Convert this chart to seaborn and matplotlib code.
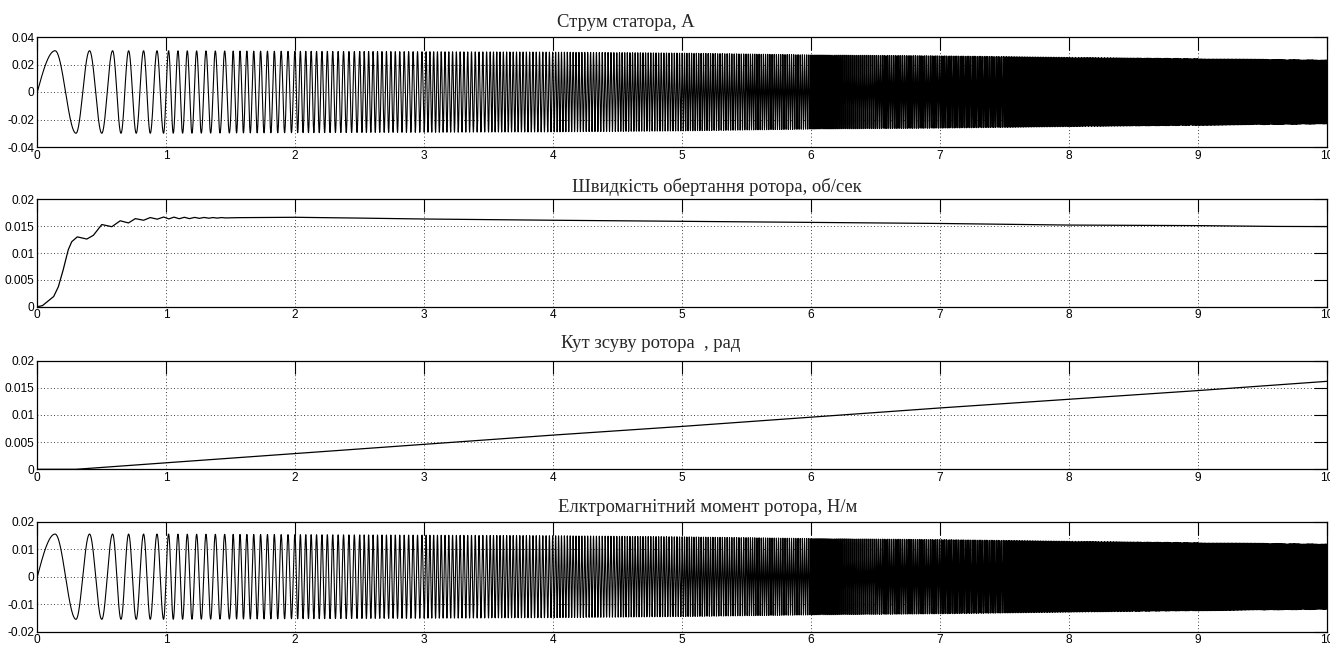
import numpy as np
import pandas as pd
import seaborn as sns
import matplotlib
matplotlib.use("Agg")
import matplotlib.pyplot as plt

sns.set_theme(style="white")
plt.rcParams['font.family'] = ['Liberation Sans', 'DejaVu Sans']

# titles of the four scopes
titles = ["Струм статора, А",
          "Швидкість обертання ротора, об/сек",
          "Кут зсуву ротора  , рад",
          "Елктромагнітний момент ротора, Н/м"]

# oscillation: number of cycles done at time t (peaks/troughs read off, later part estimated)
cyc_t = [0, 0.138, 0.30, 0.405, 0.50, 0.584, 0.649, 0.708, 0.767, 0.824, 0.876, 0.928, 0.979,
         1.018, 1.5, 2.0, 2.5, 3.0, 3.5, 4.0, 4.5, 5.0, 5.5, 6.0, 6.5, 7.0, 7.5, 8.0, 8.5,
         9.0, 9.5, 10.0]
cyc_n = [0, 0.25, 0.75, 1.25, 1.75, 2.25, 2.75, 3.25, 3.75, 4.25, 4.75, 5.25, 5.75,
         6.25, 12.9, 22.3, 34.25, 48.75, 65.8, 85.4, 107.55, 132.25, 159.5, 189.3, 221.65,
         256.55, 294.0, 334.0, 376.5, 421.65, 469.3, 519.5]

# envelope of stator current and torque
env_t = [0, 1, 2, 3, 4, 5, 6, 7, 8, 9, 10]
cur_amp = [0.030, 0.030, 0.0296, 0.0293, 0.029, 0.0283, 0.027, 0.0263, 0.0252, 0.0243, 0.0233]
trq_amp = [0.0155, 0.0155, 0.0153, 0.0151, 0.0149, 0.0145, 0.0139, 0.0135, 0.0129, 0.0124, 0.0119]

# rotor speed
spd_t = [0, 0.04, 0.127, 0.163, 0.2, 0.24, 0.267, 0.31, 0.384, 0.435, 0.50, 0.578, 0.643,
         0.707, 0.76, 0.824, 0.876, 0.93, 0.98, 1.02, 1.06, 1.10, 1.14, 1.18, 1.22, 1.257,
         1.293, 1.33, 1.362, 1.395, 1.428, 1.46, 1.55, 2.0, 2.5, 3, 4, 5, 6, 7, 8, 9, 9.6, 10]
spd_v = [0, 0.0002, 0.0019, 0.0037, 0.0068, 0.0106, 0.0121, 0.0130, 0.0126, 0.0133, 0.0153,
         0.0149, 0.0160, 0.0156, 0.0164, 0.0161, 0.0166, 0.0163, 0.0167, 0.01635, 0.01668,
         0.01638, 0.01665, 0.0164, 0.01663, 0.01645, 0.01662, 0.01648, 0.0166, 0.0165,
         0.0166, 0.01653, 0.01658, 0.01665, 0.0165, 0.01633, 0.0161, 0.0159, 0.0157, 0.0155,
         0.0152, 0.0151, 0.01495, 0.01492]

# rotor angle
ang_t = [0, 0.3, 1, 2, 3, 4, 5, 6, 7, 8, 9, 10]
ang_v = [0, 0, 0.0012, 0.0029, 0.0046, 0.0063, 0.0079, 0.0096, 0.0113, 0.0129, 0.0145, 0.0162]

t = np.linspace(0, 10, 20001)
phase = np.interp(t, cyc_t, cyc_n)
current = np.interp(t, env_t, cur_amp) * np.sin(2 * np.pi * phase)
torque = np.interp(t, env_t, trq_amp) * np.sin(2 * np.pi * phase)

W, H = 1330, 646
fig = plt.figure(figsize=(W / 100, H / 100), dpi=100)

# axes boxes in pixels: top, bottom
boxes = [(37, 147), (199.3, 306.7), (360.7, 469.3), (521.7, 631.7)]
left, right = 37.3, 1327
ylims = [(-0.04, 0.04), (0, 0.02), (0, 0.02), (-0.02, 0.02)]
yticks = [[-0.04, -0.02, 0, 0.02, 0.04],
          [0, 0.005, 0.01, 0.015, 0.02],
          [0, 0.005, 0.01, 0.015, 0.02],
          [-0.02, -0.01, 0, 0.01, 0.02]]
ylabels = [["-0.04", "-0.02", "0", "0.02", "0.04"],
           ["0", "0.005", "0.01", "0.015", "0.02"],
           ["0", "0.005", "0.01", "0.015", "0.02"],
           ["-0.02", "-0.01", "0", "0.01", "0.02"]]
title_pos = [(557, 26.7), (572, 191.7), (561, 348.3), (558, 511.7)]

data = [pd.DataFrame({"t": t, "v": current}),
        pd.DataFrame({"t": spd_t, "v": spd_v}),
        pd.DataFrame({"t": ang_t, "v": ang_v}),
        pd.DataFrame({"t": t, "v": torque})]
widths = [0.8, 0.9, 0.9, 0.8]

for i in range(4):
    top, bot = boxes[i]
    ax = fig.add_axes([left / W, 1 - bot / H, (right - left) / W, (bot - top) / H])
    sns.lineplot(data=data[i], x="t", y="v", ax=ax, color="black", lw=widths[i],
                 estimator=None, sort=False)
    ax.set_xlim(0, 10)
    ax.set_ylim(*ylims[i])
    ax.set_xticks(range(11))
    ax.set_xticklabels([str(k) for k in range(11)])
    ax.set_yticks(yticks[i])
    ax.set_yticklabels(ylabels[i])
    ax.set_xlabel("")
    ax.set_ylabel("")
    ax.grid(True, color="black", linestyle=(0, (1, 3)), lw=0.6)
    ax.tick_params(direction="in", length=9.5, width=0.8, colors="black",
                   top=True, right=True, labelsize=8.6, pad=2)
    for s in ax.spines.values():
        s.set_color("black")
        s.set_linewidth(0.9)
    fig.text(title_pos[i][0] / W, 1 - title_pos[i][1] / H, titles[i],
             family="Liberation Serif", fontsize=13.4, ha="left", va="baseline")

fig.savefig("out.png", dpi=100)
